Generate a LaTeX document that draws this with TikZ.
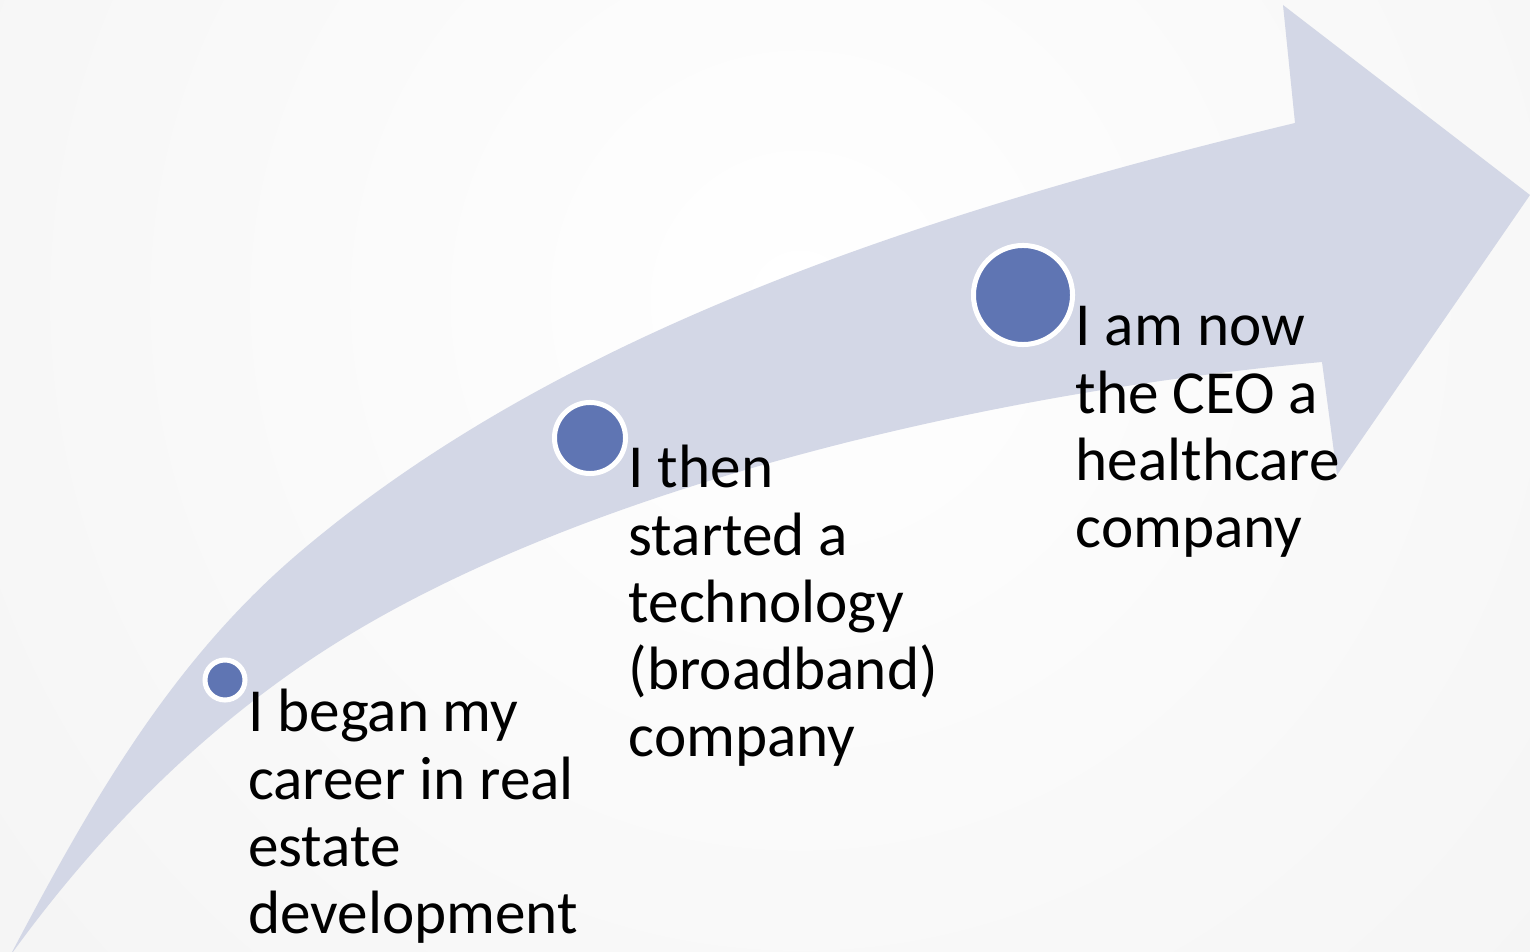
\documentclass[tikz,border=0pt]{standalone}
\usepackage{fontspec}
\setmainfont{Carlito}
\usetikzlibrary{positioning}
\definecolor{arrowfill}{HTML}{D3D7E6}
\definecolor{dotblue}{HTML}{5F75B3}
\definecolor{bggray}{HTML}{EBEBEB}
\tikzset{
  milestone/.style={circle, fill=dotblue, draw=white, line width=0.05cm, inner sep=0pt},
  milestone text/.style={anchor=base west, align=left, inner sep=0pt,
    font=\fontsize{17.4}{19.07}\selectfont},
}
\begin{document}
\begin{tikzpicture}[x=0.01cm, y=-0.01cm]
\useasboundingbox (0,0) rectangle (1530,952);
% background
\begin{scope}
  \clip (0,0) rectangle (1530,952);
  \shade[inner color=white, outer color=bggray] (800,300) circle (20cm);
\end{scope}
% the bent arrow
\fill[arrowfill] (10,956) .. controls (89,806) and (170,662) .. (300,552)
  .. controls (544,345) and (887,221) .. (1295,123)
  -- (1283,5) -- (1530,195) -- (1337,475) -- (1322,362)
  .. controls (980,393) and (578,490) .. (333,645)
  .. controls (206,725) and (98,834) .. (10,956) -- cycle;
% dots
\node[milestone, minimum size=0.40cm] (c1) at (225,680) {};
\node[milestone, minimum size=0.71cm] (c2) at (590,438) {};
\node[milestone, minimum size=0.99cm] (c3) at (1023,295) {};
% texts (anchored on the last line)
\node[milestone text] (t1) at ([yshift=-2.53cm]c1.east) {I began my\\career in real\\estate\\development};
\node[milestone text] (t2) at ([yshift=-3.18cm]c2.east) {I then\\started a\\technology\\(broadband)\\company};
\node[milestone text] (t3) at ([yshift=-2.52cm]c3.east) {I am now\\the CEO a\\healthcare\\company};
\end{tikzpicture}
\end{document}
